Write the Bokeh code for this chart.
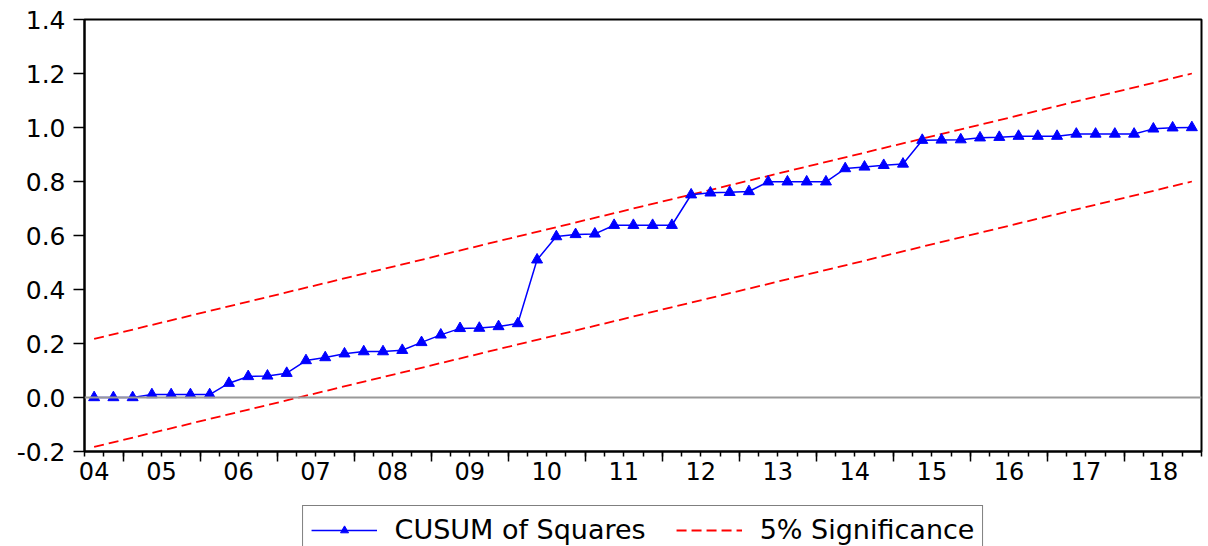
from bokeh.plotting import figure
from bokeh.layouts import column
from bokeh.models import (Range1d, FixedTicker, Span, Legend, LegendItem,
                          LinearAxis)
from bokeh.embed import file_html
from bokeh.resources import INLINE

# ---- data ----
quarters = [f"{y}Q{q}" for y in range(2004, 2019) for q in range(1, 5)][2:]  # 2004Q3 .. 2018Q4

cusum_sq = [0.000, 0.000, 0.000, 0.011, 0.011, 0.011, 0.011, 0.053, 0.078, 0.080,
            0.090, 0.137, 0.148, 0.162, 0.170, 0.170, 0.175, 0.204, 0.232, 0.256,
            0.257, 0.263, 0.274, 0.510, 0.596, 0.604, 0.606, 0.638, 0.638, 0.638,
            0.638, 0.751, 0.758, 0.760, 0.763, 0.799, 0.799, 0.799, 0.799, 0.848,
            0.854, 0.860, 0.865, 0.953, 0.954, 0.955, 0.962, 0.964, 0.968, 0.968,
            0.968, 0.976, 0.976, 0.976, 0.976, 0.995, 0.999, 1.000]

sig_quarters = ["2004Q3", "2018Q4"]
upper_5pct = [0.217, 1.200]
lower_5pct = [-0.183, 0.800]

year_labels = ["04", "05", "06", "07", "08", "09", "10", "11", "12", "13",
               "14", "15", "16", "17", "18"]
y_ticks = [-0.2, 0.0, 0.2, 0.4, 0.6, 0.8, 1.0, 1.2, 1.4]
y_tick_labels = ["-0.2", "0.0", "0.2", "0.4", "0.6", "0.8", "1.0", "1.2", "1.4"]

# ---- positions on a quarterly axis ----
qidx = {q: i for i, q in enumerate(quarters)}
x_pts = [qidx[q] + 0.5 for q in quarters]
x_sig = [qidx[q] + 0.5 for q in sig_quarters]
year_bounds = [qidx[f"20{y}Q1"] for y in year_labels if f"20{y}Q1" in qidx]
quarter_bounds = list(range(0, len(quarters) + 1))
label_x = []
for y in year_labels:
    if f"20{y}Q1" in qidx:
        label_x.append(qidx[f"20{y}Q1"] + 2)
    else:
        label_x.append(0.5)

FONT = "DejaVu Sans"
BLUE = "#0000ff"
RED = "#ff0000"

p = figure(width=1208, height=500, output_backend="svg", toolbar_location=None,
           x_range=Range1d(0, len(quarters)), y_range=Range1d(-0.2, 1.4),
           x_axis_location=None,
           min_border_left=84, min_border_right=7, min_border_top=19,
           min_border_bottom=49)
p.grid.visible = False
p.outline_line_color = "black"
p.outline_line_width = 2
p.background_fill_color = "white"
p.border_fill_color = "white"

# x axis A: year-boundary long ticks and quarterly minor ticks (no labels)
xa = LinearAxis(ticker=FixedTicker(ticks=year_bounds, minor_ticks=quarter_bounds))
xa.major_label_overrides = {b: "" for b in year_bounds}
xa.major_label_text_font_size = "1px"
xa.major_label_standoff = 0
xa.major_tick_out = 10
xa.major_tick_in = 0
xa.minor_tick_out = 5
xa.minor_tick_in = 0
xa.axis_line_width = 2
xa.axis_line_color = "black"
xa.major_tick_line_color = "black"
xa.minor_tick_line_color = "black"
xa.major_tick_line_width = 1.5
xa.minor_tick_line_width = 1.5
p.add_layout(xa, "below")

# x axis B: year labels centred in each year
xb = LinearAxis(ticker=FixedTicker(ticks=label_x, minor_ticks=[]))
xb.major_label_overrides = {t: l for t, l in zip(label_x, year_labels)}
xb.axis_line_color = None
xb.major_tick_line_color = None
xb.minor_tick_line_color = None
xb.major_tick_out = 0
xb.major_tick_in = 0
xb.major_label_standoff = 0
xb.major_label_text_font = FONT
xb.major_label_text_font_size = "24px"
xb.major_label_text_color = "black"
p.add_layout(xb, "below")

ya = p.yaxis[0]
ya.ticker = FixedTicker(ticks=y_ticks, minor_ticks=[])
ya.major_label_overrides = {t: l for t, l in zip(y_ticks, y_tick_labels)}
ya.major_tick_out = 11
ya.major_tick_in = 0
ya.minor_tick_out = 0
ya.minor_tick_in = 0
ya.axis_line_width = 2
ya.axis_line_color = "black"
ya.major_tick_line_color = "black"
ya.major_tick_line_width = 1.5
ya.major_label_text_font = FONT
ya.major_label_text_font_size = "25px"
ya.major_label_text_color = "black"
ya.major_label_standoff = 8

# zero line
p.add_layout(Span(location=0, dimension="width", line_color="#999999", line_width=2))

# 5% significance bands
r_up = p.line(x_sig, upper_5pct, line_color=RED, line_width=1.8, line_dash="10 5")
r_lo = p.line(x_sig, lower_5pct, line_color=RED, line_width=1.8, line_dash="10 5")

# CUSUM of squares
r_line = p.line(x_pts, cusum_sq, line_color=BLUE, line_width=1.5)
r_pts = p.scatter(x_pts, cusum_sq, marker="triangle", size=11,
                  fill_color=BLUE, line_color=BLUE)

# ---- legend strip below the chart (same series, drawn out of this strip's view) ----
lg = figure(width=1208, height=46, output_backend="svg", toolbar_location=None,
            x_range=Range1d(0, len(quarters)), y_range=Range1d(5, 6),
            x_axis_location=None, y_axis_location=None,
            min_border_left=84, min_border_right=7, min_border_top=0,
            min_border_bottom=0)
lg.grid.visible = False
lg.outline_line_color = None
lg.background_fill_color = "white"
lg.border_fill_color = "white"
k_line = lg.line(x_pts, cusum_sq, line_color=BLUE, line_width=1.5)
k_pts = lg.scatter(x_pts, cusum_sq, marker="triangle", size=8,
                   fill_color=BLUE, line_color=BLUE)
k_sig = lg.line(x_sig, upper_5pct, line_color=RED, line_width=1.8, line_dash="10 5")

legend = Legend(items=[LegendItem(label="CUSUM of Squares", renderers=[k_line, k_pts]),
                       LegendItem(label="5% Significance", renderers=[k_sig])],
                orientation="horizontal", location="top_center",
                label_text_font=FONT, label_text_font_size="27px",
                label_text_color="black",
                glyph_width=66, glyph_height=20, label_standoff=18, spacing=30,
                padding=8, margin=5,
                border_line_color="black", border_line_width=1.5,
                background_fill_color="white", background_fill_alpha=1)
lg.add_layout(legend, "center")

layout = column(p, lg, spacing=0)
open("out.html", "w").write(file_html(layout, INLINE))
